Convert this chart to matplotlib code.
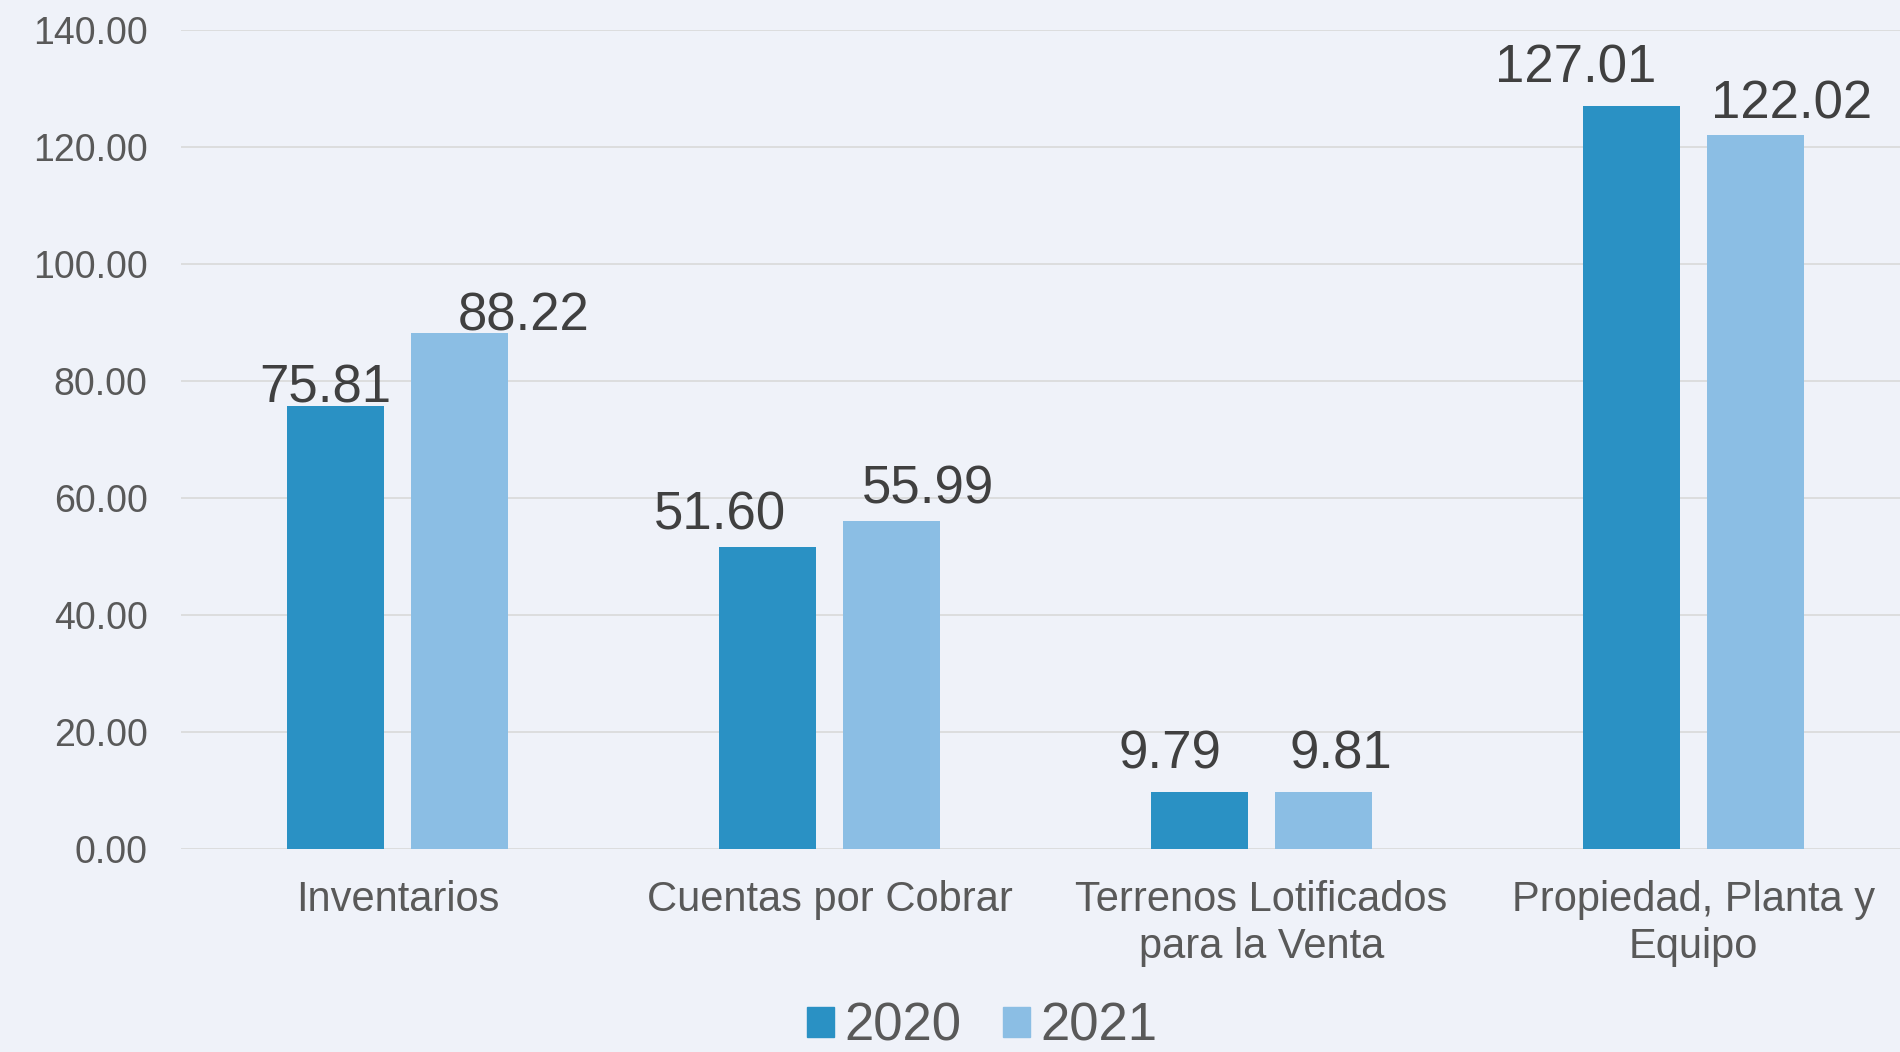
import numpy as np
import matplotlib.pyplot as plt
from matplotlib.patches import Patch

categories = ['Inventarios', 'Cuentas por Cobrar', 'Terrenos Lotificados\npara la Venta',
              'Propiedad, Planta y\nEquipo']
values_2020 = [75.81, 51.60, 9.79, 127.01]
values_2021 = [88.22, 55.99, 9.81, 122.02]
series_names = ['2020', '2021']
yticks = [0, 20, 40, 60, 80, 100, 120, 140]

# label nudges in pixels (dx, dy) - excel put them a bit off-centre
dx_2020 = [-10, -48, -30, -56]
dy_2020 = [3, 18, 23, 23]
dx_2021 = [64, 37, 18, 36]
dy_2021 = [2, 18, 23, 17]

bg = '#EFF2F9'
c2020 = '#2A91C4'
c2021 = '#8BBEE4'

plt.rcParams['font.family'] = ['Liberation Sans', 'DejaVu Sans']

fig = plt.figure(figsize=(19, 10.52), dpi=100, facecolor=bg)
ax = fig.add_axes([181/1900, 1 - 849/1052, 1 - 181/1900, (849 - 30)/1052])
ax.set_facecolor(bg)

x = np.arange(len(categories))
w = 0.225
off = 0.143
ax.bar(x - off, values_2020, w, color=c2020, zorder=3)
ax.bar(x + off, values_2021, w, color=c2021, zorder=3)

for i in range(len(categories)):
    ax.annotate(f'{values_2020[i]:.2f}', (x[i] - off, values_2020[i]),
                xytext=(dx_2020[i], dy_2020[i]), textcoords='offset pixels',
                ha='center', va='baseline', fontsize=38, color='#404040', zorder=4)
    ax.annotate(f'{values_2021[i]:.2f}', (x[i] + off, values_2021[i]),
                xytext=(dx_2021[i], dy_2021[i]), textcoords='offset pixels',
                ha='center', va='baseline', fontsize=38, color='#404040', zorder=4)

ax.set_xlim(-0.501, 3.478)
ax.set_ylim(0, 140)
ax.set_yticks(yticks)
ax.set_yticklabels([f'{t:.2f}' for t in yticks], fontsize=27, color='#595959')
ax.yaxis.grid(True, color='#D9D9D9', linewidth=1.2, zorder=0)
ax.tick_params(axis='y', length=0, pad=24)

ax.set_xticks(x)
ax.set_xticklabels(categories, fontsize=30, color='#595959', linespacing=1.25)
ax.tick_params(axis='x', length=0, pad=22)

for s in ax.spines.values():
    s.set_visible(False)

handles = [Patch(color=c2020), Patch(color=c2021)]
leg = fig.legend(handles, series_names, loc='center', bbox_to_anchor=(0.517, 0.024),
                 ncol=2, frameon=False, fontsize=38, handlelength=0.51, handleheight=0.51,
                 handletextpad=0.2, columnspacing=0.8, borderpad=0)
for t in leg.get_texts():
    t.set_color('#595959')

fig.savefig('out.png', dpi=100, facecolor=bg)
